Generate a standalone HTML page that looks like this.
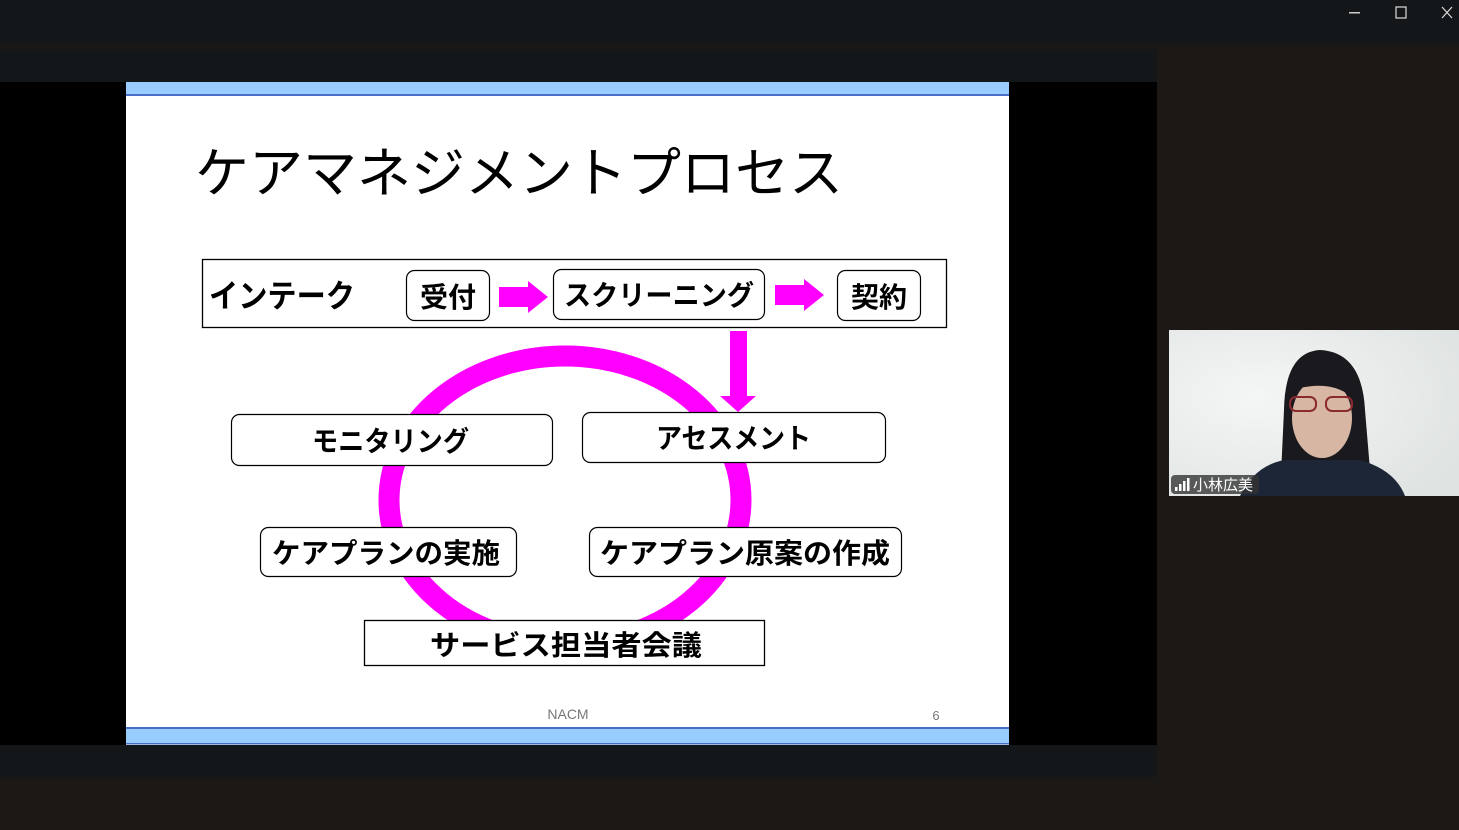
<!DOCTYPE html>
<html><head><meta charset="utf-8"><style>
html,body{margin:0;padding:0;width:1459px;height:830px;overflow:hidden;background:#1c1816;}
svg{display:block}
</style></head><body>
<svg width="1459" height="830" xmlns="http://www.w3.org/2000/svg" font-family="'Liberation Sans','Noto Sans CJK JP',sans-serif">
<rect x="0" y="0" width="1459" height="45" fill="#13171a"/>
<rect x="0" y="45" width="1459" height="4" fill="#1c1816"/>
<rect x="0" y="49" width="1157" height="33" fill="#13171a"/>
<rect x="0" y="82" width="1157" height="663" fill="#000"/>
<rect x="0" y="745" width="1157" height="32" fill="#13171a"/>
<rect x="1349" y="12" width="11" height="1.5" fill="#ccc"/>
<rect x="1396" y="7" width="10" height="11" fill="none" stroke="#ddd" stroke-width="1.2"/>
<path d="M1442 7 L1452 18 M1452 7 L1442 18" stroke="#ddd" stroke-width="1.2"/>
<rect x="126" y="82" width="883" height="663" fill="#fff"/>
<rect x="126" y="82" width="883" height="13" fill="#99ccff"/>
<rect x="126" y="94" width="883" height="2" fill="#4a6fc8"/>
<rect x="126" y="728" width="883" height="16" fill="#99ccff"/>
<rect x="126" y="727" width="883" height="2" fill="#4a6fc8"/>
<rect x="126" y="743" width="883" height="1.5" fill="#4a6fc8"/>
<text x="195" y="192" font-size="54" fill="#000">ケアマネジメントプロセス</text>
<ellipse cx="565" cy="500" rx="176" ry="144" fill="none" stroke="#ff00ff" stroke-width="21"/>
<rect x="202.5" y="259.5" width="744" height="68" fill="#fff" stroke="#000" stroke-width="1.3"/>
<text x="209" y="307" font-size="32" font-weight="bold" textLength="146" lengthAdjust="spacingAndGlyphs">インテーク</text>
<rect x="406.5" y="270.5" width="83" height="50" rx="8" fill="#fff" stroke="#000" stroke-width="1.2"/>
<text x="448" y="307" font-size="28" font-weight="bold" text-anchor="middle">受付</text>
<polygon points="499,287 528,287 528,281 548,297 528,313 528,307 499,307" fill="#ff00ff"/>
<rect x="553.5" y="269.5" width="211" height="50" rx="8" fill="#fff" stroke="#000" stroke-width="1.2"/>
<text x="564" y="305" font-size="28" font-weight="bold" textLength="190" lengthAdjust="spacingAndGlyphs">スクリーニング</text>
<polygon points="775,285 804,285 804,279 824,295 804,311 804,305 775,305" fill="#ff00ff"/>
<rect x="837.5" y="270.5" width="83" height="50" rx="8" fill="#fff" stroke="#000" stroke-width="1.2"/>
<text x="879" y="307" font-size="28" font-weight="bold" text-anchor="middle">契約</text>
<polygon points="730,331 747,331 747,396 756,396 738,412 720,396 730,396" fill="#ff00ff"/>
<rect x="231.5" y="414.5" width="321" height="51" rx="8" fill="#fff" stroke="#000" stroke-width="1.2"/>
<text x="312" y="451" font-size="28" font-weight="bold" textLength="157" lengthAdjust="spacingAndGlyphs">モニタリング</text>
<rect x="582.5" y="412.5" width="303" height="50" rx="8" fill="#fff" stroke="#000" stroke-width="1.2"/>
<text x="656" y="448" font-size="28" font-weight="bold" textLength="155" lengthAdjust="spacingAndGlyphs">アセスメント</text>
<rect x="260.5" y="527.5" width="256" height="49" rx="8" fill="#fff" stroke="#000" stroke-width="1.2"/>
<text x="272" y="563" font-size="28" font-weight="bold" textLength="228" lengthAdjust="spacingAndGlyphs">ケアプランの実施</text>
<rect x="589.5" y="527.5" width="312" height="49" rx="8" fill="#fff" stroke="#000" stroke-width="1.2"/>
<text x="600" y="563" font-size="28" font-weight="bold" textLength="290" lengthAdjust="spacingAndGlyphs">ケアプラン原案の作成</text>
<rect x="364.5" y="620.5" width="400" height="45" fill="#fff" stroke="#000" stroke-width="1.3"/>
<text x="430" y="655" font-size="28" font-weight="bold" textLength="272" lengthAdjust="spacingAndGlyphs">サービス担当者会議</text>
<text x="568" y="719" font-size="14" fill="#777" text-anchor="middle">NACM</text>
<text x="936" y="720" font-size="13" fill="#777" text-anchor="middle">6</text>
<defs>
<radialGradient id="bg" cx="0.3" cy="0.4" r="0.8"><stop offset="0" stop-color="#f4f6f5"/><stop offset="1" stop-color="#dfe3e2"/></radialGradient>
</defs>
<rect x="1169" y="330" width="290" height="166" fill="url(#bg)"/>
<path d="M1280 496 L1284 410 Q1285 352 1320 350 Q1362 352 1365 410 L1370 470 L1405 496 Z" fill="#1a1a1e"/>
<path d="M1240 496 Q1255 465 1285 460 L1360 460 Q1395 470 1405 496 Z" fill="#1c2636"/>
<ellipse cx="1322" cy="418" rx="30" ry="40" fill="#d7b6a4"/>
<path d="M1290 395 Q1295 365 1322 365 Q1352 367 1355 400 Q1335 380 1300 388 Z" fill="#1a1a1e"/>
<rect x="1290" y="397" width="26" height="14" rx="6" fill="none" stroke="#8a2a30" stroke-width="2"/>
<rect x="1326" y="397" width="26" height="14" rx="6" fill="none" stroke="#8a2a30" stroke-width="2"/>
<rect x="1171" y="475" width="88" height="19" rx="4" fill="#333" opacity="0.8"/>
<rect x="1175" y="487" width="2.5" height="4" fill="#fff"/>
<rect x="1179" y="484" width="2.5" height="7" fill="#fff"/>
<rect x="1183" y="481" width="2.5" height="10" fill="#fff"/>
<rect x="1187" y="478" width="2.5" height="13" fill="#fff"/>
<text x="1193" y="490" font-size="15" fill="#fff">小林広美</text>
</svg>
</body></html>
